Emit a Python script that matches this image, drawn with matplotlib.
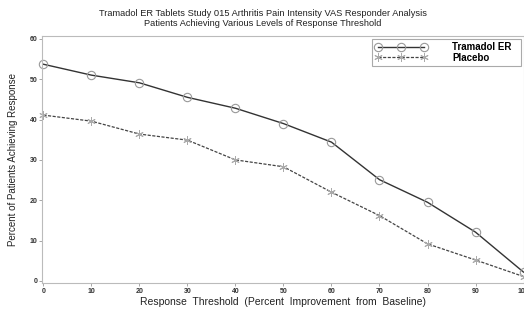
import matplotlib
matplotlib.use("Agg")
import matplotlib.pyplot as plt

thresholds = [0, 10, 20, 30, 40, 50, 60, 70, 80, 90, 100]
tramadol = [53.7, 51.0, 49.1, 45.5, 42.8, 39.0, 34.4, 25.1, 19.5, 12.1, 2.2]
placebo = [41.1, 39.6, 36.4, 34.9, 30.0, 28.3, 22.0, 16.2, 9.2, 5.2, 1.1]
xticks = [0, 10, 20, 30, 40, 50, 60, 70, 80, 90, 100]
yticks = [0, 10, 20, 30, 40, 50, 60]

plt.rcParams['font.family'] = ['Liberation Sans', 'DejaVu Sans']

W, H = 524, 309
fig = plt.figure(figsize=(W / 100, H / 100), dpi=100)
L, R, T, B = 42, 524, 36, 283
ax = fig.add_axes([L / W, 1 - B / H, (R - L) / W, (B - T) / H])

ax.plot(thresholds, tramadol, color='#333333', lw=1.0, ls='-',
        marker='o', ms=6, mfc='none', mec='#999999', mew=0.8,
        label='Tramadol ER', clip_on=False)
ax.plot(thresholds, placebo, color='#444444', lw=0.9, ls=(0, (2.5, 1.2)),
        marker=(6, 2, 0), ms=6, mec='#aaaaaa', mew=0.7,
        label='Placebo', clip_on=False)

ax.set_xlim(-0.3, 100.1)
ax.set_ylim(-0.5, 60.7)
ax.set_xticks(xticks)
ax.set_yticks(yticks)
ax.tick_params(axis='both', labelsize=5, colors='#999999', labelcolor='#333333',
               length=2, width=0.6, direction='out', pad=1.5)
for lab in ax.get_xticklabels() + ax.get_yticklabels():
    lab.set_fontweight('bold')
for s in ['left', 'bottom', 'top', 'right']:
    ax.spines[s].set_color('#bbbbbb')
    ax.spines[s].set_linewidth(0.8)

ax.set_xlabel('Response  Threshold  (Percent  Improvement  from  Baseline)',
              fontsize=7.5, color='#222222', va='center')
ax.xaxis.set_label_coords(0.5, -(302 - B) / (B - T))
ax.set_ylabel('Percent of Patients Achieving Response', fontsize=7,
              color='#222222', va='center')
ax.yaxis.set_label_coords(-(L - 13) / (R - L), 0.5)

fig.text(0.502, 1 - 14 / H, 'Tramadol ER Tablets Study 015 Arthritis Pain Intensity VAS Responder Analysis',
         ha='center', va='center', fontsize=6.7, color='#222222')
fig.text(0.502, 1 - 24 / H, 'Patients Achieving Various Levels of Response Threshold',
         ha='center', va='center', fontsize=6.7, color='#222222')

x0 = (372 - L) / (R - L)
w = (521 - 372) / (R - L)
ytop = (B - 39) / (B - T)
hgt = (67 - 39) / (B - T)
leg = ax.legend(loc='upper left', bbox_to_anchor=(x0, ytop - hgt, w, hgt), mode='expand',
                numpoints=3, handlelength=5.3, handletextpad=2.6, borderaxespad=0,
                borderpad=0.35, labelspacing=0.05, fancybox=False, framealpha=1,
                edgecolor='#aaaaaa', prop={'size': 7, 'weight': 'bold'})
leg.get_frame().set_linewidth(0.8)

fig.savefig('out.png', dpi=100)
